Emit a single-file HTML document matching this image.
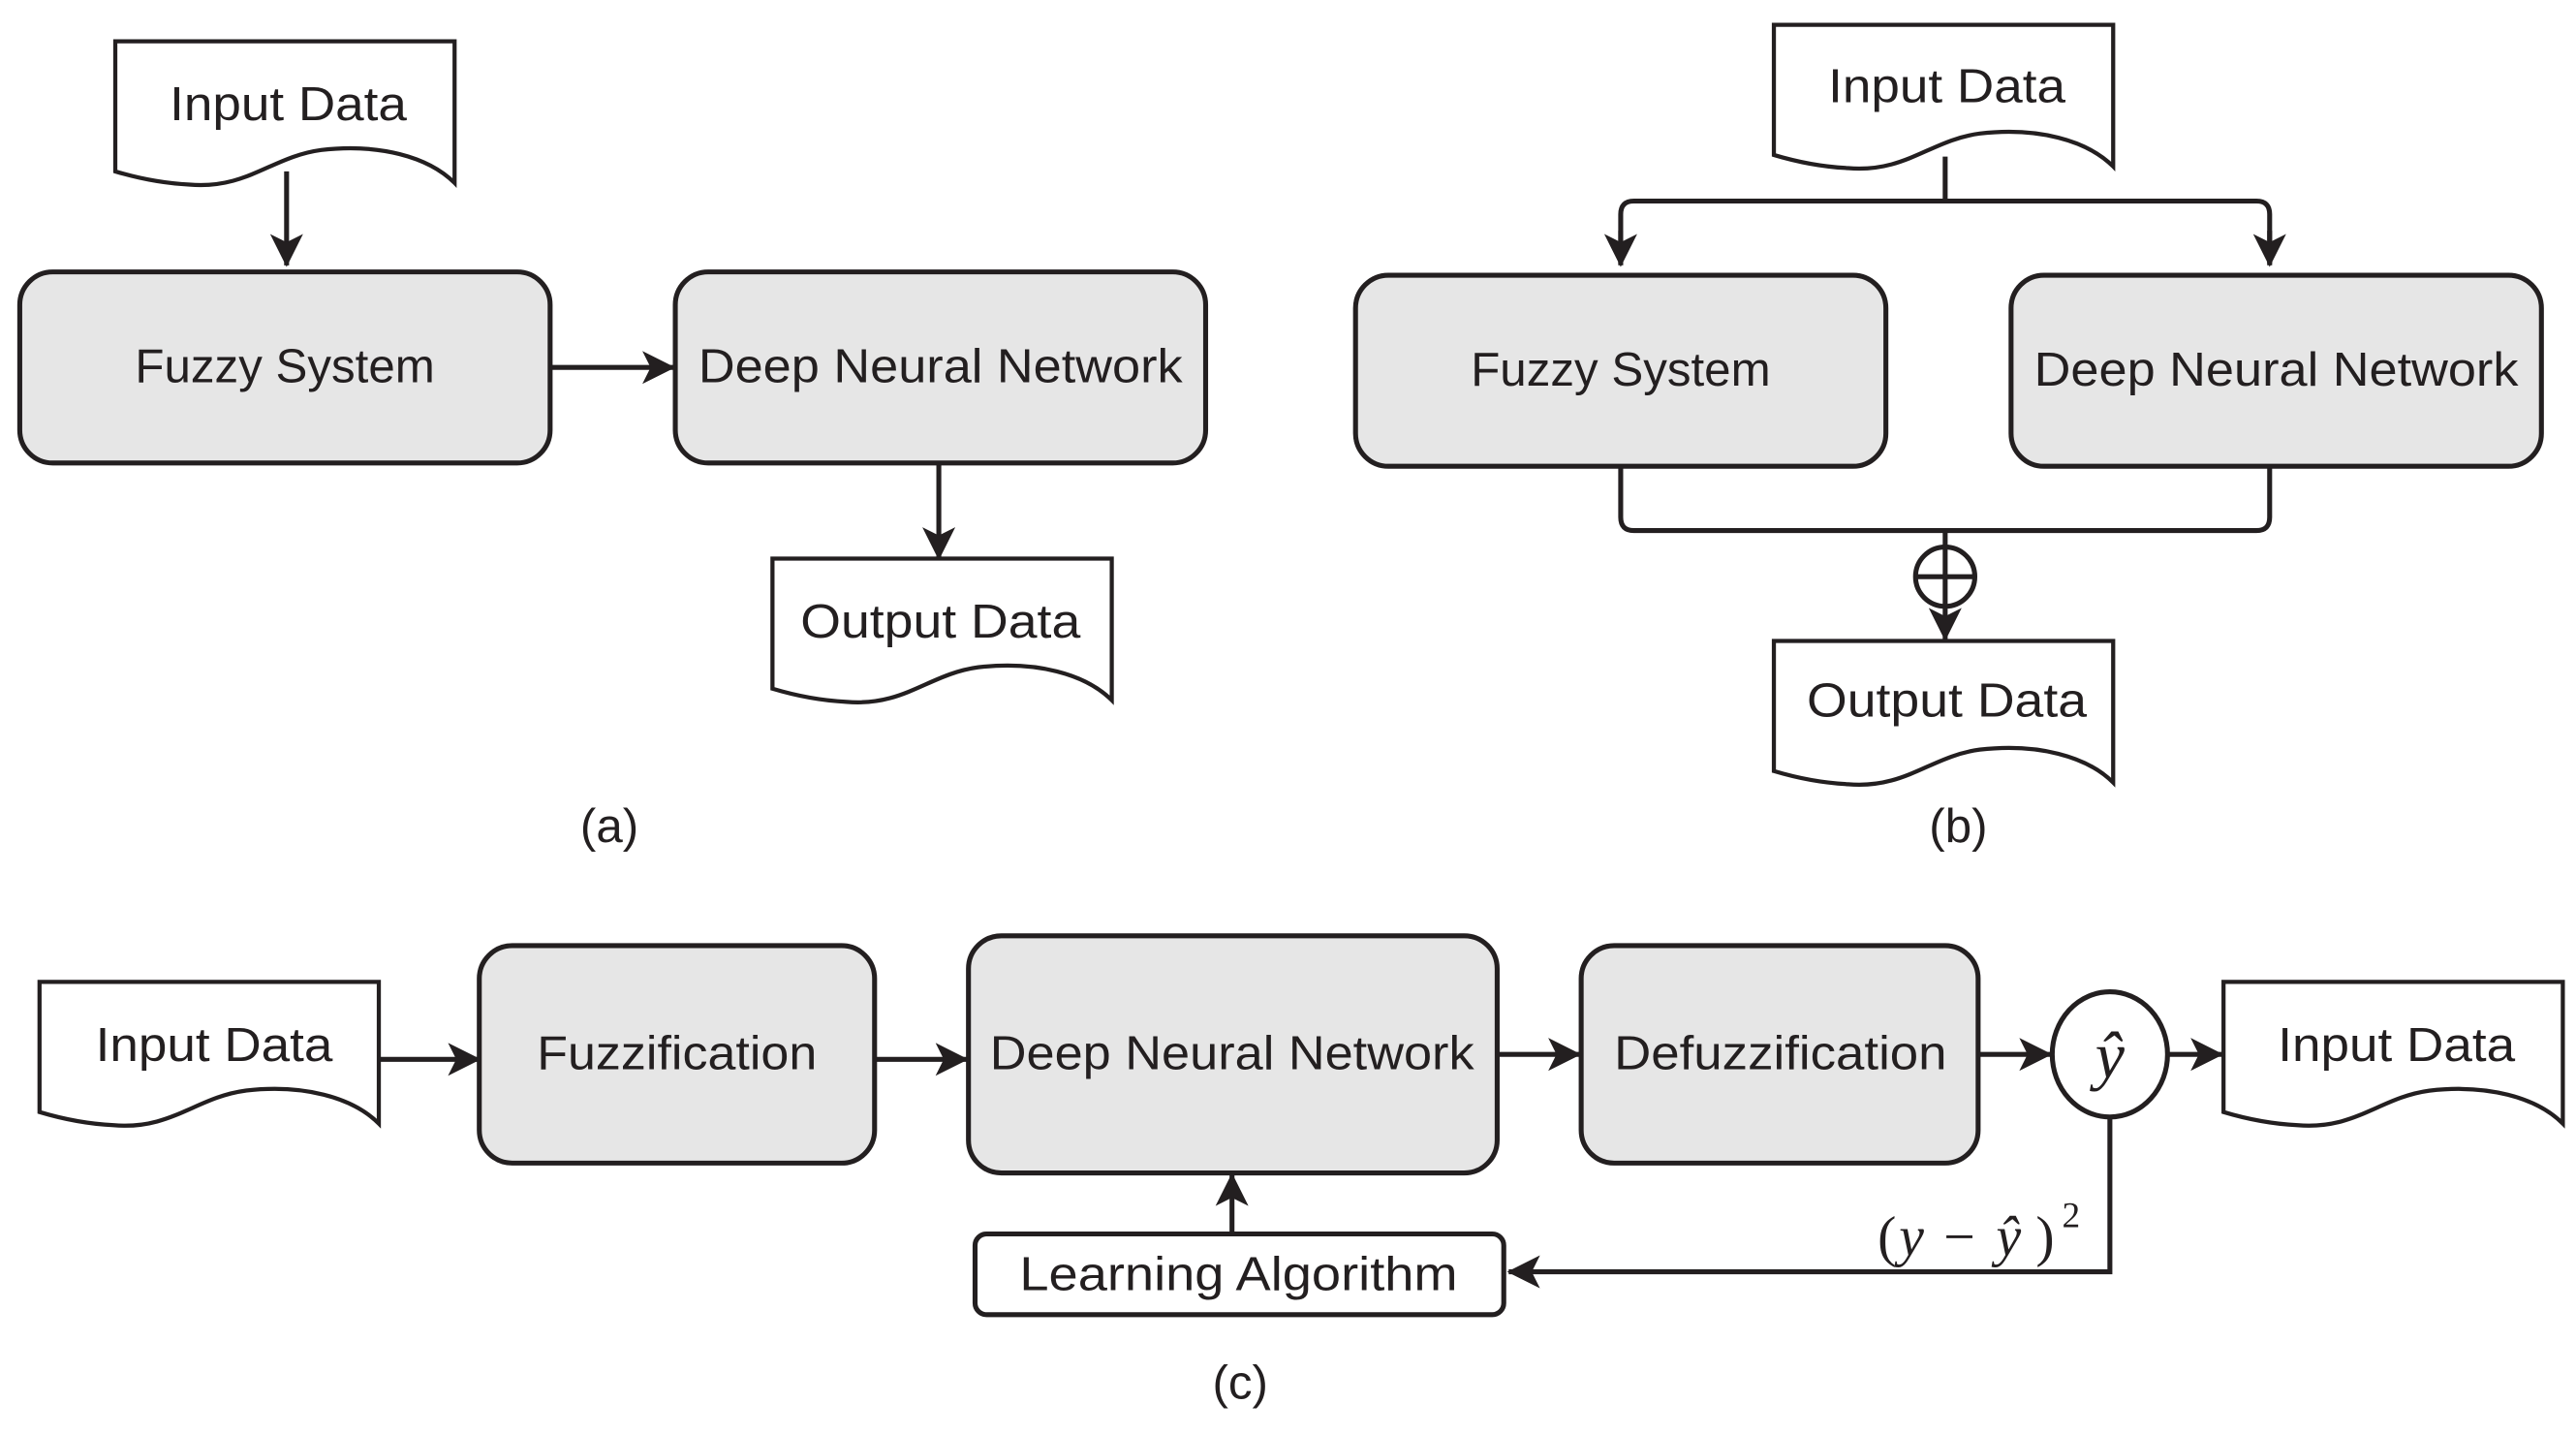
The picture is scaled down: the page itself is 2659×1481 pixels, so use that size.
<!DOCTYPE html>
<html><head><meta charset="utf-8"><style>html,body{margin:0;padding:0;background:#fff}svg{display:block}</style></head>
<body>
<svg width="2659" height="1481" viewBox="0 0 1564 871" xmlns="http://www.w3.org/2000/svg" font-family="'Liberation Sans', sans-serif">
<defs>
<marker id="ar" viewBox="0 0 20 20" refX="19" refY="10" markerWidth="20" markerHeight="20" markerUnits="userSpaceOnUse" orient="auto">
<path d="M0,0 L20,10 L0,20 L5,10 Z" fill="#231f20"/></marker>
<path id="doc" d="M0,0 H206 V86 C190,70 160,62 125,66 C95,70 80,90 45,87 C25,86 10,82 0,79 Z" fill="#fff" stroke="#231f20" stroke-width="2.5"/>
</defs>
<g stroke="#231f20" stroke-width="3" fill="none">
<line x1="174" y1="104" x2="174" y2="161" marker-end="url(#ar)"/>
<line x1="334" y1="223" x2="409" y2="223" marker-end="url(#ar)"/>
<line x1="570" y1="281" x2="570" y2="339" marker-end="url(#ar)"/>
<path d="M1181,95 V122"/>
<path d="M984,160 V130 Q984,122 992,122 H1370 Q1378,122 1378,130 V160" />
<line x1="984" y1="140" x2="984" y2="161" marker-end="url(#ar)"/>
<line x1="1378" y1="140" x2="1378" y2="161" marker-end="url(#ar)"/>
<path d="M984,283 V314 Q984,322 992,322 H1370 Q1378,322 1378,314 V283"/>
<line x1="1181" y1="322" x2="1181" y2="332"/>
<circle cx="1181" cy="350" r="18"/>
<line x1="1163" y1="350" x2="1199" y2="350"/>
<line x1="1181" y1="332" x2="1181" y2="368"/>
<line x1="1181" y1="368" x2="1181" y2="388" marker-end="url(#ar)"/>
<line x1="230" y1="643" x2="291" y2="643" marker-end="url(#ar)"/>
<line x1="531" y1="643" x2="587" y2="643" marker-end="url(#ar)"/>
<line x1="909" y1="640" x2="959" y2="640" marker-end="url(#ar)"/>
<line x1="1201" y1="640" x2="1245" y2="640" marker-end="url(#ar)"/>
<line x1="1317" y1="640" x2="1349" y2="640" marker-end="url(#ar)"/>
<path d="M1281,678 V772 H916" marker-end="url(#ar)"/>
<line x1="748" y1="749" x2="748" y2="713" marker-end="url(#ar)"/>
</g>
<g fill="#e6e6e6" stroke="#231f20" stroke-width="3">
<rect x="12" y="165" width="322" height="116" rx="20"/>
<rect x="410" y="165" width="322" height="116" rx="20"/>
<rect x="823" y="167" width="322" height="116" rx="20"/>
<rect x="1221" y="167" width="322" height="116" rx="20"/>
<rect x="291" y="574" width="240" height="132" rx="20"/>
<rect x="588" y="568" width="321" height="144" rx="20"/>
<rect x="960" y="574" width="241" height="132" rx="20"/>
</g>
<rect x="592" y="749" width="321" height="49" rx="7" fill="#fff" stroke="#231f20" stroke-width="3"/>
<ellipse cx="1281" cy="640" rx="35" ry="38" fill="#fff" stroke="#231f20" stroke-width="3"/>
<use href="#doc" x="70" y="25"/>
<use href="#doc" x="469" y="339"/>
<use href="#doc" x="1077" y="15"/>
<use href="#doc" x="1077" y="389"/>
<use href="#doc" x="24" y="596"/>
<use href="#doc" x="1350" y="596"/>
<g fill="#231f20" font-size="29" text-anchor="middle">
<text x="175" y="73" textLength="144" lengthAdjust="spacingAndGlyphs">Input Data</text>
<text x="571" y="387" textLength="170" lengthAdjust="spacingAndGlyphs">Output Data</text>
<text x="1182" y="62" textLength="144" lengthAdjust="spacingAndGlyphs">Input Data</text>
<text x="1182" y="435" textLength="170" lengthAdjust="spacingAndGlyphs">Output Data</text>
<text x="130" y="644" textLength="144" lengthAdjust="spacingAndGlyphs">Input Data</text>
<text x="1455" y="644" textLength="144" lengthAdjust="spacingAndGlyphs">Input Data</text>
<text x="173" y="232" textLength="182" lengthAdjust="spacingAndGlyphs">Fuzzy System</text>
<text x="571" y="232" textLength="294" lengthAdjust="spacingAndGlyphs">Deep Neural Network</text>
<text x="984" y="234" textLength="182" lengthAdjust="spacingAndGlyphs">Fuzzy System</text>
<text x="1382" y="234" textLength="294" lengthAdjust="spacingAndGlyphs">Deep Neural Network</text>
<text x="411" y="649" textLength="170" lengthAdjust="spacingAndGlyphs">Fuzzification</text>
<text x="748" y="649" textLength="294" lengthAdjust="spacingAndGlyphs">Deep Neural Network</text>
<text x="1081" y="649" textLength="202" lengthAdjust="spacingAndGlyphs">Defuzzification</text>
<text x="752" y="783" textLength="266" lengthAdjust="spacingAndGlyphs">Learning Algorithm</text>
<text x="370" y="511">(a)</text>
<text x="1189" y="511">(b)</text>
<text x="753" y="849">(c)</text>
</g>
<g fill="#231f20" font-family="'Liberation Serif', serif">
<text x="1281" y="654" font-size="40" text-anchor="middle" font-style="italic">ŷ</text>
<text x="1140" y="762" font-size="34">(</text>
<text x="1153" y="762" font-size="34" font-style="italic">y</text>
<text x="1180" y="762" font-size="34">−</text>
<text x="1212" y="762" font-size="34" font-style="italic">ŷ</text>
<text x="1236" y="762" font-size="34">)</text>
<text x="1252" y="745" font-size="22">2</text>
</g>
</svg>
</body></html>
